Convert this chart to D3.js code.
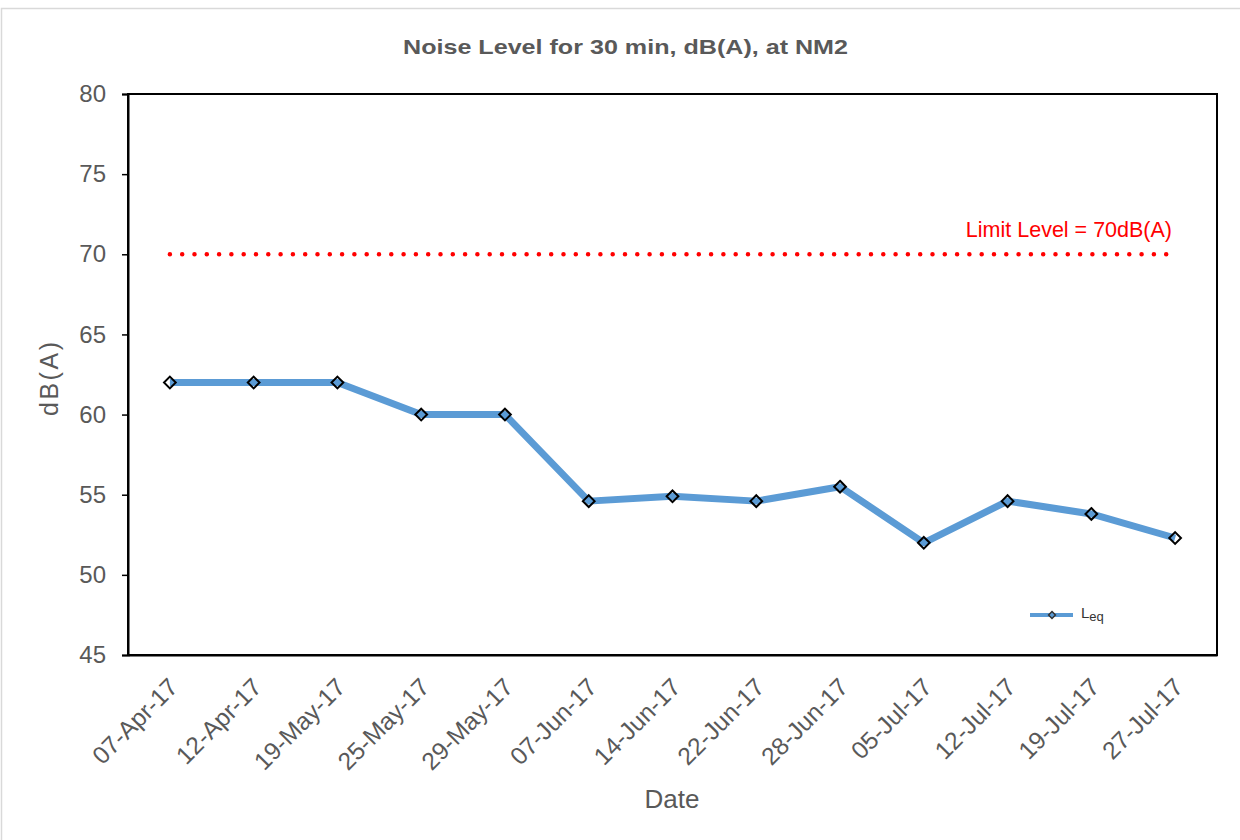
<!DOCTYPE html>
<html><head><meta charset="utf-8">
<script src="https://cdn.jsdelivr.net/npm/d3@7"></script>
<style>body{margin:0;background:#fff;} svg{display:block;font-family:"Liberation Sans",Arial,sans-serif;}</style>
</head><body>
<svg id="c" width="1240" height="840"></svg>
<script>
const categories = ["07-Apr-17","12-Apr-17","19-May-17","25-May-17","29-May-17","07-Jun-17","14-Jun-17","22-Jun-17","28-Jun-17","05-Jul-17","12-Jul-17","19-Jul-17","27-Jul-17"];
const leqValues = [62, 62, 62, 60, 60, 54.6, 54.9, 54.6, 55.5, 52, 54.6, 53.8, 52.3];
const limitValue = 70;
const yTicks = [45, 50, 55, 60, 65, 70, 75, 80];

const svg = d3.select("#c");
const gray = "#595959";
// outer frame
svg.append("rect").attr("x",1.5).attr("y",8.5).attr("width",1250).attr("height",840).attr("fill","none").attr("stroke","#d9d9d9").attr("stroke-width",1.5);

const L=128, R=1217, T=94, B=655;
const x = d3.scaleBand().domain(categories).range([L,R]);
const y = d3.scaleLinear().domain([45,80]).range([B,T]);
const cx = d => x(d)+x.bandwidth()/2;

// plot box
svg.append("rect").attr("x",L).attr("y",T).attr("width",R-L).attr("height",B-T).attr("fill","none").attr("stroke","#000").attr("stroke-width",2);

// y axis
const ya = svg.append("g").attr("transform",`translate(${L},0)`).call(d3.axisLeft(y).tickValues(yTicks).tickSize(6).tickPadding(16));
ya.select(".domain").attr("stroke","#000").attr("stroke-width",2);
ya.selectAll(".tick line").attr("stroke","#000").attr("stroke-width",1.5);
ya.selectAll("text").attr("fill",gray).style("font-size","24px").style("font-family","Liberation Sans, Arial, sans-serif");

// x axis
const xa = svg.append("g").attr("transform",`translate(0,${B})`).call(d3.axisBottom(x).tickSize(0).tickPadding(0));
xa.select(".domain").attr("stroke","#000").attr("stroke-width",2);
xa.selectAll(".tick").attr("transform",d=>`translate(${cx(d)},0)`);
xa.selectAll("text").attr("fill",gray).style("font-size","24.5px").style("font-family","Liberation Sans, Arial, sans-serif")
  .attr("text-anchor","end").attr("y",0).attr("dy","0.9em").attr("transform","translate(-6,18) rotate(-45)");

// limit line
svg.append("line").attr("x1",cx(categories[0])).attr("x2",cx(categories[categories.length-1])-6)
  .attr("y1",y(limitValue)).attr("y2",y(limitValue))
  .attr("stroke","#ff0000").attr("stroke-width",4.5).attr("stroke-linecap","round").attr("stroke-dasharray","0 12.3");
svg.append("text").attr("x",1172).attr("y",237).attr("text-anchor","end").attr("fill","#ff0000")
  .style("font-size","21.5px").text("Limit Level = " + limitValue + "dB(A)");

// series line
const line = d3.line().x((d,i)=>cx(categories[i])).y(d=>y(d));
svg.append("path").datum(leqValues).attr("d",line).attr("fill","none").attr("stroke","#5B9BD5").attr("stroke-width",7).attr("stroke-linejoin","round");
const diamond = d3.symbol().type(d3.symbolDiamond2).size(88);
svg.selectAll(".mk").data(leqValues).join("path").attr("class","mk")
  .attr("d",diamond).attr("transform",(d,i)=>`translate(${cx(categories[i])},${y(d)})`)
  .attr("fill","none").attr("stroke","#000").attr("stroke-width",2);

// legend
svg.append("line").attr("x1",1030).attr("x2",1073).attr("y1",615).attr("y2",615).attr("stroke","#5B9BD5").attr("stroke-width",4);
svg.append("path").attr("d",d3.symbol().type(d3.symbolDiamond2).size(30)).attr("transform","translate(1052,615)").attr("fill","#5B9BD5").attr("stroke","#333").attr("stroke-width",1.5);
const lt = svg.append("text").attr("x",1081).attr("y",618).attr("fill","#333").style("font-size","15px");
lt.append("tspan").text("L");
lt.append("tspan").attr("dy",3).style("font-size","13px").text("eq");

// title & axis titles
svg.append("text").attr("x",625.5).attr("y",54).attr("text-anchor","middle").attr("fill",gray).style("font-size","21px").style("font-weight","bold")
  .attr("textLength",445).attr("lengthAdjust","spacingAndGlyphs").text("Noise Level for 30 min, dB(A), at NM2");
svg.append("text").attr("transform","translate(58,379) rotate(-90)").attr("text-anchor","middle").attr("fill",gray).style("font-size","25px")
  .attr("textLength",74).attr("lengthAdjust","spacing").text("dB(A)");
svg.append("text").attr("x",672).attr("y",808).attr("text-anchor","middle").attr("fill",gray).style("font-size","26px").text("Date");
</script>
</body></html>
